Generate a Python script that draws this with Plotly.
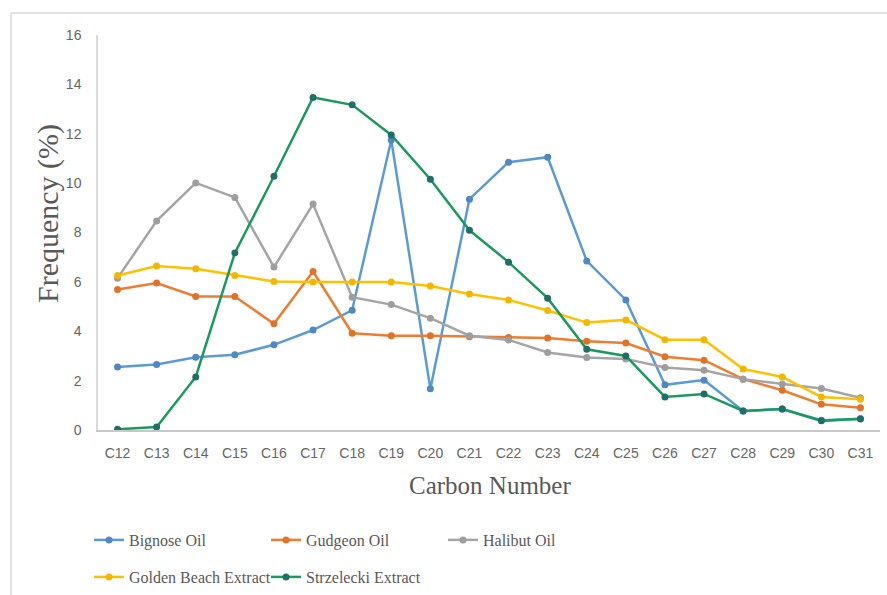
import plotly.graph_objects as go

# Carbon-number distribution of the oils and extracts (% of total)
carbon = ["C12", "C13", "C14", "C15", "C16", "C17", "C18", "C19", "C20", "C21",
          "C22", "C23", "C24", "C25", "C26", "C27", "C28", "C29", "C30", "C31"]

bignose = [2.55, 2.65, 2.95, 3.05, 3.45, 4.05, 4.85, 11.75, 1.67, 9.35,
           10.85, 11.05, 6.85, 5.27, 1.83, 2.02, 0.77, 0.85, 0.40, 0.45]
gudgeon = [5.69, 5.95, 5.41, 5.41, 4.30, 6.42, 3.92, 3.82, 3.82, 3.78,
           3.75, 3.73, 3.60, 3.52, 2.97, 2.83, 2.06, 1.61, 1.04, 0.90]
halibut = [6.15, 8.47, 10.01, 9.42, 6.60, 9.15, 5.38, 5.08, 4.53, 3.82,
           3.65, 3.14, 2.94, 2.88, 2.53, 2.42, 2.06, 1.86, 1.68, 1.31]
golden_beach = [6.26, 6.64, 6.53, 6.26, 6.02, 5.99, 5.99, 5.99, 5.83, 5.51,
                5.27, 4.84, 4.35, 4.46, 3.66, 3.66, 2.47, 2.15, 1.34, 1.25]
strzelecki = [0.03, 0.12, 2.15, 7.17, 10.28, 13.47, 13.17, 11.95, 10.16, 8.09,
              6.80, 5.34, 3.27, 3.00, 1.34, 1.46, 0.77, 0.85, 0.37, 0.46]

y_ticks = [0, 2, 4, 6, 8, 10, 12, 14, 16]

series = [
    ("Bignose Oil", bignose, "#5B9BD5", "#5088C4", "legend"),
    ("Gudgeon Oil", gudgeon, "#ED7D31", "#E2722A", "legend"),
    ("Halibut Oil", halibut, "#A5A5A5", "#9E9E9E", "legend"),
    ("Golden Beach Extract", golden_beach, "#FFC000", "#F2B800", "legend2"),
    ("Strzelecki Extract", strzelecki, "#1A9A5E", "#1F6F66", "legend2"),
]

W, H = 887, 595
L, R, T, B = 98, 7, 35, 165

fig = go.Figure()
for name, vals, line_c, mark_c, leg in series:
    fig.add_trace(go.Scatter(
        x=carbon, y=vals, name=name, mode="lines+markers",
        line=dict(color=line_c, width=2.5),
        marker=dict(color=mark_c, size=7),
        legend=leg,
    ))

tick_font = dict(family="Liberation Sans, Arial, sans-serif", size=14, color="#666666")
serif = "Liberation Serif, Times New Roman, serif"

legend_common = dict(
    orientation="h", xref="container", yref="container",
    x=89 / W, xanchor="left", yanchor="middle",
    entrywidth=132, entrywidthmode="pixels",
    font=dict(family=serif, size=16, color="#595959"),
    bgcolor="rgba(0,0,0,0)", borderwidth=0, itemwidth=30,
    tracegroupgap=0,
)

px_to_paper_x = lambda px: (px - L) / (W - L - R)
px_to_paper_y = lambda py: (H - B - py) / (H - B - T)

fig.update_layout(
    width=W, height=H,
    margin=dict(l=L, r=R, t=T, b=B),
    paper_bgcolor="white", plot_bgcolor="white",
    showlegend=True,
    legend=dict(legend_common, y=1 - 540 / H),
    legend2=dict(legend_common, y=1 - 577 / H),
    xaxis=dict(
        type="category", range=[-0.5, len(carbon) - 0.5],
        showgrid=False, showline=True, linecolor="#C8C8C8", linewidth=1.5,
        ticks="", tickfont=tick_font, ticklabelstandoff=9,
        zeroline=False,
    ),
    yaxis=dict(
        range=[0, 16], tickvals=y_ticks, showgrid=False,
        showline=True, linecolor="#DADADA", linewidth=1.5,
        ticks="", tickfont=tick_font, ticklabelstandoff=12,
        zeroline=False,
    ),
    annotations=[
        dict(text="Carbon Number", xref="paper", yref="paper",
             x=px_to_paper_x(490), y=px_to_paper_y(485),
             xanchor="center", yanchor="middle", showarrow=False,
             font=dict(family=serif, size=25, color="#595959")),
        dict(text="Frequency (%)", xref="paper", yref="paper",
             x=px_to_paper_x(48), y=px_to_paper_y(214),
             xanchor="center", yanchor="middle", showarrow=False, textangle=-90,
             font=dict(family=serif, size=30, color="#595959")),
    ],
    shapes=[
        dict(type="line", xref="paper", yref="paper",
             x0=px_to_paper_x(11), x1=px_to_paper_x(W + 5),
             y0=px_to_paper_y(13), y1=px_to_paper_y(13),
             line=dict(color="#E2E2E2", width=2)),
        dict(type="line", xref="paper", yref="paper",
             x0=px_to_paper_x(11), x1=px_to_paper_x(11),
             y0=px_to_paper_y(13), y1=px_to_paper_y(H + 5),
             line=dict(color="#E2E2E2", width=2)),
    ],
)

fig.write_html("out.html")
